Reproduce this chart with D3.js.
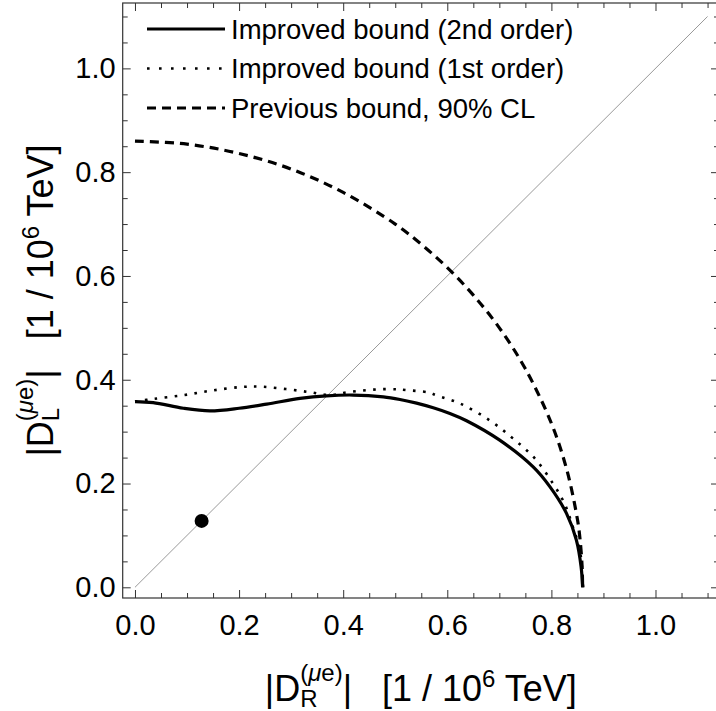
<!DOCTYPE html>
<html>
<head>
<meta charset="utf-8">
<script src="https://cdn.jsdelivr.net/npm/d3@7"></script>
<style>
  html, body { margin: 0; padding: 0; background: #fff; }
  svg { display: block; font-family: "Liberation Sans", Arial, Helvetica, sans-serif; }
</style>
</head>
<body>
<svg id="chart" width="716" height="711"></svg>
<script>
// ---- data ----
const secondOrder = [
  [0.0, 0.358], [0.035, 0.356], [0.093, 0.345], [0.144, 0.340], [0.2, 0.345],
  [0.253, 0.353], [0.317, 0.364], [0.368, 0.369], [0.419, 0.3705], [0.477, 0.367],
  [0.509, 0.362], [0.541, 0.355], [0.573, 0.346], [0.605, 0.335], [0.637, 0.321],
  [0.70, 0.284], [0.765, 0.232], [0.797, 0.194], [0.829, 0.1425], [0.848, 0.091],
  [0.857, 0.040], [0.86, 0.0]
];
const firstOrder = [
  [0.0, 0.358], [0.035, 0.363], [0.091, 0.370], [0.147, 0.379], [0.204, 0.386],
  [0.243, 0.3866], [0.290, 0.382], [0.336, 0.376], [0.374, 0.3705], [0.409, 0.376],
  [0.467, 0.3815], [0.505, 0.3815], [0.521, 0.380], [0.563, 0.3757], [0.579, 0.370],
  [0.625, 0.354], [0.681, 0.322], [0.726, 0.287], [0.768, 0.2485], [0.803, 0.200],
  [0.825, 0.162], [0.841, 0.117], [0.854, 0.075], [0.859, 0.035], [0.861, 0.0]
];
const previousBound = [
  [0.0, 0.86], [0.1, 0.854], [0.2, 0.836], [0.3, 0.806], [0.4, 0.761],
  [0.5, 0.70], [0.55, 0.661], [0.6, 0.616], [0.65, 0.563], [0.7, 0.50],
  [0.75, 0.421], [0.8, 0.316], [0.83, 0.225], [0.85, 0.131], [0.855, 0.093],
  [0.859, 0.040], [0.86, 0.0]
];
const diagonal = [[0, 0], [1.1, 1.1]];
const benchmarkPoint = [[0.128, 0.128]];
const majorTicks = [0, 0.2, 0.4, 0.6, 0.8, 1.0];
const minorTicks = [0.05, 0.1, 0.15, 0.25, 0.3, 0.35, 0.45, 0.5, 0.55, 0.65, 0.7, 0.75, 0.85, 0.9, 0.95, 1.05, 1.1];
const legendLabels = ["Improved bound (2nd order)", "Improved bound (1st order)", "Previous bound, 90% CL"];

// ---- layout ----
const svg = d3.select("#chart");
const pL = 122.7, pR = 719, pT = 3, pB = 598;
const x = d3.scaleLinear().domain([-0.0236, 1.122]).range([pL, pR]);
const y = d3.scaleLinear().domain([-0.0206, 1.126]).range([pB, pT]);

const fmt = d3.format(".1f");
const frameColor = "#333";

function styleAxis(g, fs) {
  g.select(".domain").remove();
  g.selectAll(".tick line").attr("stroke", frameColor).attr("stroke-width", 1);
  g.selectAll(".tick text").attr("fill", "#000").attr("font-size", fs)
    .attr("font-family", "'Liberation Sans', Arial, Helvetica, sans-serif");
}

// bottom
svg.append("g").attr("transform", `translate(0,${pB})`)
  .call(d3.axisBottom(x).tickValues(majorTicks).tickSize(-8).tickPadding(16).tickFormat(fmt))
  .call(g => styleAxis(g, 29))
  .call(g => g.selectAll(".tick text").attr("dy", "0.71em"));
svg.append("g").attr("transform", `translate(0,${pB})`)
  .call(d3.axisBottom(x).tickValues(minorTicks).tickSize(-5).tickFormat(""))
  .call(g => styleAxis(g, 0));
// top
svg.append("g").attr("transform", `translate(0,${pT})`)
  .call(d3.axisTop(x).tickValues(majorTicks).tickSize(-8).tickFormat(""))
  .call(g => styleAxis(g, 0));
svg.append("g").attr("transform", `translate(0,${pT})`)
  .call(d3.axisTop(x).tickValues(minorTicks).tickSize(-5).tickFormat(""))
  .call(g => styleAxis(g, 0));
// left
svg.append("g").attr("transform", `translate(${pL},0)`)
  .call(d3.axisLeft(y).tickValues(majorTicks).tickSize(-8).tickPadding(7).tickFormat(fmt))
  .call(g => styleAxis(g, 29));
svg.append("g").attr("transform", `translate(${pL},0)`)
  .call(d3.axisLeft(y).tickValues(minorTicks).tickSize(-5).tickFormat(""))
  .call(g => styleAxis(g, 0));
// right
svg.append("g").attr("transform", `translate(${pR},0)`)
  .call(d3.axisRight(y).tickValues(majorTicks).tickSize(-8).tickFormat(""))
  .call(g => styleAxis(g, 0));
svg.append("g").attr("transform", `translate(${pR},0)`)
  .call(d3.axisRight(y).tickValues(minorTicks).tickSize(-5).tickFormat(""))
  .call(g => styleAxis(g, 0));

// frame
svg.append("rect")
  .attr("x", pL).attr("y", pT)
  .attr("width", pR - pL).attr("height", pB - pT)
  .attr("fill", "none").attr("stroke", frameColor).attr("stroke-width", 1.2);

// ---- marks ----
const line = d3.line().x(d => x(d[0])).y(d => y(d[1])).curve(d3.curveCatmullRom.alpha(0.5));

svg.append("path").datum(diagonal).attr("d", d3.line().x(d => x(d[0])).y(d => y(d[1])))
  .attr("fill", "none").attr("stroke", "#999").attr("stroke-width", 1);

svg.append("path").datum(previousBound).attr("d", line)
  .attr("fill", "none").attr("stroke", "#000").attr("stroke-width", 3.2)
  .attr("stroke-dasharray", "9,6");

svg.append("path").datum(firstOrder).attr("d", line)
  .attr("fill", "none").attr("stroke", "#000").attr("stroke-width", 2.6)
  .attr("stroke-dasharray", "2.6,7.4");

svg.append("path").datum(secondOrder).attr("d", line)
  .attr("fill", "none").attr("stroke", "#000").attr("stroke-width", 3.2);

svg.selectAll("circle.pt").data(benchmarkPoint).join("circle")
  .attr("class", "pt")
  .attr("cx", d => x(d[0])).attr("cy", d => y(d[1])).attr("r", 7).attr("fill", "#000");

// ---- legend ----
const legStyles = [
  { w: 3.2, dash: null },
  { w: 2.6, dash: "2.6,9.4" },
  { w: 3.2, dash: "9,6" }
];
const leg = svg.append("g");
legendLabels.forEach((lab, i) => {
  const cy = 29 + i * 39.5;
  leg.append("line").attr("x1", 147).attr("x2", 225).attr("y1", cy).attr("y2", cy)
    .attr("stroke", "#000").attr("stroke-width", legStyles[i].w)
    .attr("stroke-dasharray", legStyles[i].dash);
  leg.append("text").attr("x", 231).attr("y", cy).attr("dy", "0.35em")
    .attr("font-size", 27.5).attr("fill", "#000").text(lab);
});

// ---- axis labels ----
function axisLabel(t, sub) {
  t.attr("font-size", 36).attr("fill", "#000");
  t.append("tspan").text("|D");
  const s = t.append("tspan").attr("font-size", 24).attr("dy", 6).text(sub);
  const sw = s.node().getComputedTextLength();
  t.append("tspan").attr("font-size", 24).attr("dx", -sw).attr("dy", -26).text("(");
  t.append("tspan").attr("font-size", 24).attr("font-style", "italic").text("μ");
  t.append("tspan").attr("font-size", 24).text("e)");
  t.append("tspan").attr("dy", 20).text("|\u00a0\u00a0\u00a0[1 / 10");
  t.append("tspan").attr("font-size", 24).attr("dy", -14).text("6");
  t.append("tspan").attr("dy", 14).text(" TeV]");
}

const xl = svg.append("text").attr("x", (pL + pR) / 2).attr("y", 701).attr("text-anchor", "middle");
axisLabel(xl, "R");
const yl = svg.append("text").attr("transform", `translate(53,${(pT + pB) / 2}) rotate(-90)`)
  .attr("text-anchor", "middle");
axisLabel(yl, "L");
</script>
</body>
</html>
